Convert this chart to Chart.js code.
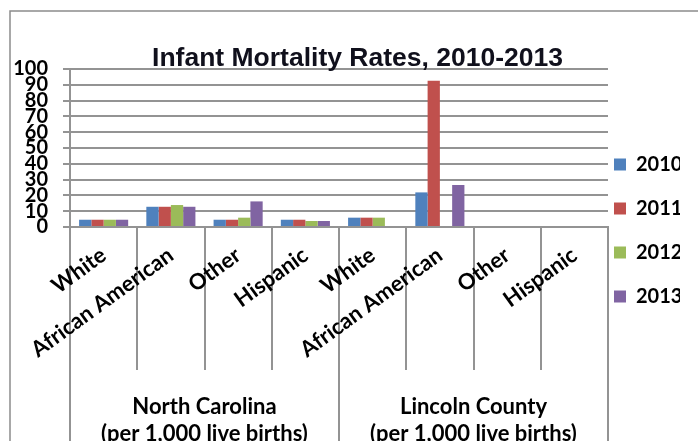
<!DOCTYPE html>
<html>
<head>
<meta charset="utf-8">
<title>Infant Mortality Rates, 2010-2013</title>
<script src="https://cdn.jsdelivr.net/npm/chart.js@4.4.0/dist/chart.umd.min.js"></script>
<style>
  html, body { margin: 0; padding: 0; background: #fff; overflow: hidden; }
  canvas { display: block; }
</style>
</head>
<body>
<canvas id="imr_chart" width="698" height="441"></canvas>
<script>
var categories = ["White", "African American", "Other", "Hispanic", "White", "African American", "Other", "Hispanic"];
var regions = [["North Carolina", "(per 1,000 live births)"], ["Lincoln County", "(per 1,000 live births)"]];
var years = ["2010", "2011", "2012", "2013"];
var rates2010 = [4.6, 12.8, 4.6, 4.6, 5.9, 21.9, null, null];
var rates2011 = [4.6, 12.8, 4.6, 4.6, 5.9, 92.6, null, null];
var rates2012 = [4.6, 13.9, 5.9, 3.8, 5.9, null, null, null];
var rates2013 = [4.6, 12.8, 16.2, 3.8, null, 26.6, null, null];
var yTicks = [0, 10, 20, 30, 40, 50, 60, 70, 80, 90, 100];

var barColors = ["#4F81BD", "#C0504D", "#9BBB59", "#8064A2"];
var gridColor = "#939393";

function bars(label, values, color) {
  return {
    label: label,
    data: values,
    backgroundColor: color,
    borderWidth: 0,
    barPercentage: 1,
    categoryPercentage: 0.73,
    xAxisID: 'x',
    yAxisID: 'y'
  };
}

// white page + the grey frame of the pasted chart
var frame = {
  id: 'frame',
  beforeDraw: function(chart) {
    var ctx = chart.ctx;
    ctx.save();
    ctx.fillStyle = "white";
    ctx.fillRect(0, 0, chart.width, chart.height);
    ctx.strokeStyle = "#8c8c8c";
    ctx.lineWidth = 1.5;
    ctx.beginPath();
    ctx.moveTo(10, chart.height);
    ctx.lineTo(10, 11);
    ctx.lineTo(chart.width, 11);
    ctx.stroke();
    ctx.restore();
  }
};

// legend sits close to the plot, title a bit right of centre
var nudge = {
  id: 'nudge',
  afterLayout: function(chart) {
    chart.legend.left -= 18;
    chart.legend.right -= 18;
    chart.legend.top += 10;
    chart.legend.bottom += 10;
    chart.titleBlock.left += 8.5;
    chart.titleBlock.right += 8.5;
  }
};

function start() {
  var ctx = document.getElementById("imr_chart").getContext("2d");
  new Chart(ctx, {
    type: 'bar',
    data: {
      labels: categories,
      datasets: [
        bars(years[0], rates2010, barColors[0]),
        bars(years[1], rates2011, barColors[1]),
        bars(years[2], rates2012, barColors[2]),
        bars(years[3], rates2013, barColors[3])
      ]
    },
    options: {
      responsive: false,
      animation: false,
      layout: { padding: 0 },
      plugins: {
        title: {
          display: true,
          text: 'Infant Mortality Rates, 2010-2013',
          color: '#10101c',
          font: { family: "'Liberation Sans', Arial, sans-serif", weight: 'bold', size: 26.5, lineHeight: 1.2 },
          padding: { top: 43, bottom: -5.8 }
        },
        legend: {
          position: 'right',
          align: 'center',
          maxWidth: 90,
          labels: {
            boxWidth: 12,
            boxHeight: 12,
            padding: 24,
            textAlign: 'left',
            color: '#000',
            font: { family: 'Lato', weight: 'bold', size: 20 }
          }
        },
        tooltip: { enabled: false }
      },
      scales: {
        x: {
          type: 'category',
          position: 'bottom',
          offset: true,
          grid: { offset: true, drawOnChartArea: false, tickLength: 143, color: gridColor, lineWidth: 2 },
          border: { display: true, color: gridColor, width: 2 },
          ticks: {
            autoSkip: false,
            minRotation: 36,
            maxRotation: 36,
            padding: -128,
            color: '#000',
            font: { family: 'Lato', weight: 'bold', size: 22 }
          },
          afterFit: function(scale) { scale.height = 143; }
        },
        x2: {
          type: 'category',
          labels: regions,
          position: 'bottom',
          weight: 1,
          offset: true,
          grid: { offset: true, drawOnChartArea: false, tickLength: 80, color: gridColor, lineWidth: 2 },
          border: { display: false },
          ticks: {
            autoSkip: false,
            minRotation: 0,
            maxRotation: 0,
            padding: -57,
            color: '#000',
            font: { family: 'Lato', weight: 'bold', size: 22, lineHeight: '27px' }
          },
          afterFit: function(scale) { scale.height = 71; }
        },
        y: {
          min: yTicks[0],
          max: yTicks[yTicks.length - 1],
          afterBuildTicks: function(axis) {
            axis.ticks = yTicks.map(function(v) { return { value: v }; });
          },
          grid: { color: gridColor, lineWidth: 2, tickLength: 7 },
          border: { color: gridColor, width: 2 },
          ticks: {
            autoSkip: false,
            padding: 15,
            color: '#000',
            font: { family: 'Lato', weight: 'bold', size: 20, lineHeight: 1 }
          },
          afterFit: function(scale) { scale.width = 70; }
        }
      }
    },
    plugins: [frame, nudge]
  });
}

window.onload = start;
</script>
</body>
</html>
